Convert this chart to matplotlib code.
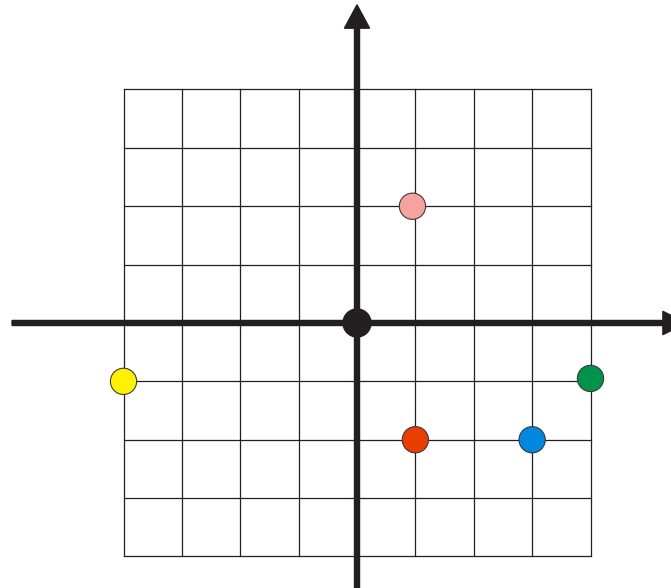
import numpy as np
import matplotlib
matplotlib.use('Agg')
import matplotlib.pyplot as plt
from matplotlib.patches import FancyArrow, Circle

# grid extent (unit squares) and plotted points
grid_vals = np.arange(-4, 5)
pt_x = [0.95, -4, 4, 1, 3]
pt_y = [2, -1, -0.95, -2, -2]
pt_colors = ['#f7a29e', '#fff200', '#00944a', '#ea3e00', '#0088e0']

ink = '#231f20'

fig = plt.figure(figsize=(6.71, 5.88), dpi=100)
ax = fig.add_axes([0, 0, 1, 1])
ax.set_xlim(-6.116, 5.379)
ax.set_ylim(-4.54, 5.533)
ax.axis('off')

# grid
for v in grid_vals:
    ax.plot([v, v], [grid_vals[0], grid_vals[-1]], color=ink, lw=0.9, zorder=1)
    ax.plot([grid_vals[0], grid_vals[-1]], [v, v], color=ink, lw=0.9, zorder=1)

# axes with arrowheads
ax.add_patch(FancyArrow(-5.91, 0, 11.55, 0, width=0.086, head_width=0.40,
                        head_length=0.40, length_includes_head=True,
                        color=ink, zorder=2))
ax.add_patch(FancyArrow(0, -4.8, 0, 10.25, width=0.086, head_width=0.43,
                        head_length=0.40, length_includes_head=True,
                        color=ink, zorder=2))

# origin
ax.add_patch(Circle((0, 0), 0.24, facecolor=ink, edgecolor=ink, zorder=3))

# points
for x, y, c in zip(pt_x, pt_y, pt_colors):
    ax.add_patch(Circle((x, y), 0.225, facecolor=c, edgecolor='#3a3a3a',
                        lw=0.8, zorder=4))

fig.savefig('out.png', dpi=100)
